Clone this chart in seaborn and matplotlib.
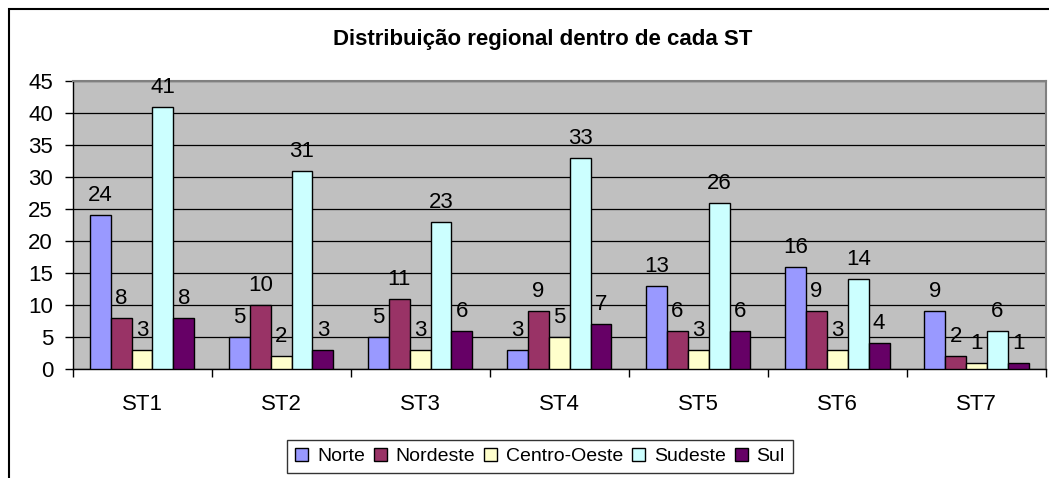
import matplotlib
matplotlib.use("Agg")
import matplotlib.pyplot as plt
from matplotlib.patches import Rectangle
from matplotlib.ticker import MultipleLocator, FixedLocator
import seaborn as sns
import pandas as pd

categories = ["ST1", "ST2", "ST3", "ST4", "ST5", "ST6", "ST7"]
regions = ["Norte", "Nordeste", "Centro-Oeste", "Sudeste", "Sul"]
norte = [24, 5, 5, 3, 13, 16, 9]
nordeste = [8, 10, 11, 9, 6, 9, 2]
centro_oeste = [3, 2, 3, 5, 3, 3, 1]
sudeste = [41, 31, 23, 33, 26, 14, 6]
sul = [8, 3, 6, 7, 6, 4, 1]
colors = ["#9999FF", "#993366", "#FFFFCC", "#CCFFFF", "#660066"]
title = "Distribuição regional dentro de cada ST"

series = [norte, nordeste, centro_oeste, sudeste, sul]
rows = []
for reg, vals in zip(regions, series):
    for cat, v in zip(categories, vals):
        rows.append({"ST": cat, "Regiao": reg, "Valor": v})
df = pd.DataFrame(rows)

sns.set_style("white")
plt.rcParams["font.family"] = ["Liberation Sans", "DejaVu Sans"]
plt.rcParams["text.color"] = "black"
plt.rcParams["xtick.color"] = "black"
plt.rcParams["ytick.color"] = "black"
plt.rcParams["axes.labelcolor"] = "black"

fig = plt.figure(figsize=(10.49, 4.78), dpi=100)
ax = fig.add_axes([72.5 / 1049, 1 - 369 / 478, (1046 - 72.5) / 1049, (369 - 81) / 478])
ax.set_facecolor("#C0C0C0")

sns.barplot(data=df, x="ST", y="Valor", hue="Regiao", order=categories,
            hue_order=regions, palette=colors, width=0.75, edgecolor="black",
            linewidth=1, saturation=1, ax=ax, legend=True, zorder=3)

for cont in ax.containers:
    ax.bar_label(cont, fmt="%d", padding=6.5, fontsize=16, color="black", zorder=4)

ax.set_ylim(0, 45)
ax.set_xlim(-0.5, len(categories) - 0.5)
ax.yaxis.set_major_locator(MultipleLocator(5))
ax.grid(axis="y", color="black", linewidth=0.9, zorder=0)
ax.set_axisbelow(True)
ax.set_xlabel("")
ax.set_ylabel("")

ax.tick_params(axis="y", direction="out", length=6, width=1, pad=8, labelsize=16,
               left=True, colors="black")
ax.tick_params(axis="x", which="major", length=0, pad=18, labelsize=16, colors="black")
ax.xaxis.set_minor_locator(FixedLocator([i + 0.5 for i in range(-1, len(categories))]))
ax.tick_params(axis="x", which="minor", direction="out", length=6, width=1, bottom=True,
               colors="black")

for s in ["left", "bottom"]:
    ax.spines[s].set_color("black")
    ax.spines[s].set_linewidth(1)
for s in ["top", "right"]:
    ax.spines[s].set_color("#808080")
    ax.spines[s].set_linewidth(1.5)

handles, labels = ax.get_legend_handles_labels()
ax.get_legend().remove()
leg = fig.legend(handles, labels, loc="center", bbox_to_anchor=(540 / 1049, 1 - 456.5 / 478),
                 ncol=5, fontsize=14, frameon=True, fancybox=False, shadow=False,
                 handlelength=0.68, handleheight=0.68, handletextpad=0.45, columnspacing=0.45,
                 borderpad=0.4, borderaxespad=0)
leg.get_frame().set_edgecolor("black")
leg.get_frame().set_linewidth(1)
for h in leg.legend_handles:
    h.set_edgecolor("black")
    h.set_linewidth(1)

fig.text(543 / 1049, 1 - 40 / 478, title, ha="center", va="center",
         fontsize=16, fontweight="bold", color="black")

fig.add_artist(Rectangle((8.5 / 1049, -0.5), 2, 1 - 8.5 / 478 + 0.5,
                         transform=fig.transFigure, fill=False, edgecolor="black",
                         linewidth=1.5, clip_on=False))

fig.savefig("out.png", dpi=100)
